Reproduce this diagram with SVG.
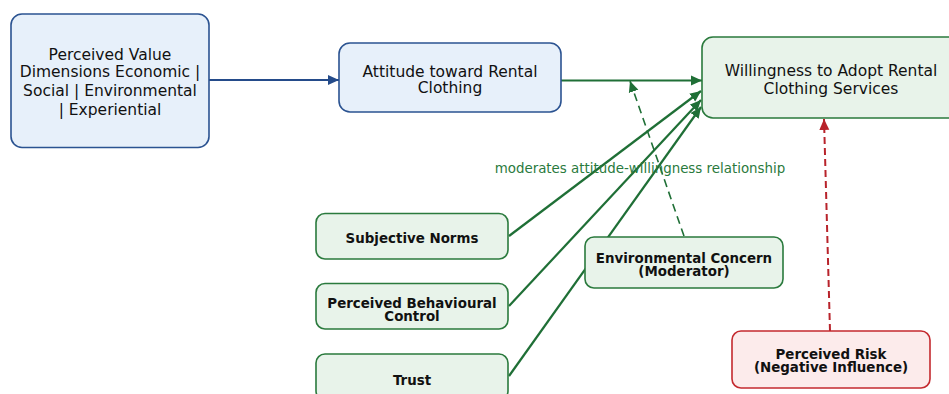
<svg xmlns="http://www.w3.org/2000/svg" width="949" height="394" viewBox="0 0 949 394">
  <style>
    .blue { fill: #e7f0fa; stroke: #2b5391; stroke-width: 1.6; }
    .green { fill: #e8f3ea; stroke: #2a7a3d; stroke-width: 1.6; }
    .red { fill: #fcebeb; stroke: #c42a2f; stroke-width: 1.6; }
    .t { font-family: "DejaVu Sans", "Liberation Sans", sans-serif; fill: #111; text-anchor: middle; }
    .big { font-size: 15.5px; }
    .bold { font-size: 13.4px; font-weight: bold; }
    .lbl { font-family: "DejaVu Sans", "Liberation Sans", sans-serif; font-size: 13.4px; fill: #2a7a3d; text-anchor: middle; }
    .cb { stroke: #244b8a; stroke-width: 2.2; fill: none; }
    .cg { stroke: #1f6f36; stroke-width: 2.2; fill: none; }
    .cgd { stroke: #1f6f36; stroke-width: 1.6; fill: none; stroke-dasharray: 8 5; }
    .crd { stroke: #b8232b; stroke-width: 2; fill: none; stroke-dasharray: 7 4; }
  </style>
  <defs>
    <marker id="ab" markerUnits="userSpaceOnUse" markerWidth="12" markerHeight="12" viewBox="0 0 12 12" refX="11" refY="6" orient="auto">
      <path d="M0,1 L11,6 L0,11 Z" fill="#244b8a"/>
    </marker>
    <marker id="ag" markerUnits="userSpaceOnUse" markerWidth="12" markerHeight="12" viewBox="0 0 12 12" refX="11" refY="6" orient="auto">
      <path d="M0,1 L11,6 L0,11 Z" fill="#1f6f36"/>
    </marker>
    <marker id="ar" markerUnits="userSpaceOnUse" markerWidth="12" markerHeight="12" viewBox="0 0 12 12" refX="11" refY="6" orient="auto">
      <path d="M0,1 L11,6 L0,11 Z" fill="#b8232b"/>
    </marker>
  </defs>

  <!-- connectors -->
  <g id="connectors">
    <line class="cb" x1="209" y1="80" x2="339" y2="80" marker-end="url(#ab)"/>
    <line class="cg" x1="561" y1="80.5" x2="702" y2="80.5" marker-end="url(#ag)"/>
    <line class="cg" x1="509" y1="236" x2="701" y2="91" marker-end="url(#ag)"/>
    <line class="cg" x1="509" y1="306" x2="701" y2="100" marker-end="url(#ag)"/>
    <line class="cg" x1="509" y1="376" x2="701" y2="107" marker-end="url(#ag)"/>
    <line class="cgd" x1="684" y1="236" x2="630" y2="81" marker-end="url(#ag)"/>
    <line class="crd" x1="830" y1="331" x2="824" y2="119" marker-end="url(#ar)"/>
    <text class="lbl" x="640" y="173">moderates attitude-willingness relationship</text>
  </g>

  <!-- nodes -->
  <g id="perceived-value">
    <rect class="blue" x="11" y="14" width="198" height="133.5" rx="11"/>
    <text class="t big" x="110" y="60">Perceived Value</text>
    <text class="t big" x="110" y="76.5">Dimensions Economic |</text>
    <text class="t big" x="110" y="95.5">Social | Environmental</text>
    <text class="t big" x="110" y="114.5">| Experiential</text>
  </g>

  <g id="attitude">
    <rect class="blue" x="339" y="43" width="222" height="69" rx="11"/>
    <text class="t big" x="450" y="76.5">Attitude toward Rental</text>
    <text class="t big" x="450" y="92.5">Clothing</text>
  </g>

  <g id="willingness">
    <rect class="green" x="702" y="37" width="260" height="81" rx="11"/>
    <text class="t big" x="831" y="75.5">Willingness to Adopt Rental</text>
    <text class="t big" x="831" y="94">Clothing Services</text>
  </g>

  <g id="subjective-norms">
    <rect class="green" x="316" y="213.5" width="192" height="45.5" rx="9"/>
    <text class="t bold" x="412" y="242.5">Subjective Norms</text>
  </g>

  <g id="behavioural-control">
    <rect class="green" x="316" y="283.5" width="192" height="45.5" rx="9"/>
    <text class="t bold" x="412" y="307.5">Perceived Behavioural</text>
    <text class="t bold" x="412" y="320.5">Control</text>
  </g>

  <g id="trust">
    <rect class="green" x="316" y="354" width="192" height="46" rx="9"/>
    <text class="t bold" x="412" y="384.5">Trust</text>
  </g>

  <g id="environmental-concern">
    <rect class="green" x="585" y="237" width="198" height="51" rx="9"/>
    <text class="t bold" x="684" y="262.5">Environmental Concern</text>
    <text class="t bold" x="684" y="275.5">(Moderator)</text>
  </g>

  <g id="perceived-risk">
    <rect class="red" x="732" y="331" width="198" height="57" rx="9"/>
    <text class="t bold" x="831" y="358.5">Perceived Risk</text>
    <text class="t bold" x="831" y="372">(Negative Influence)</text>
  </g>
</svg>
